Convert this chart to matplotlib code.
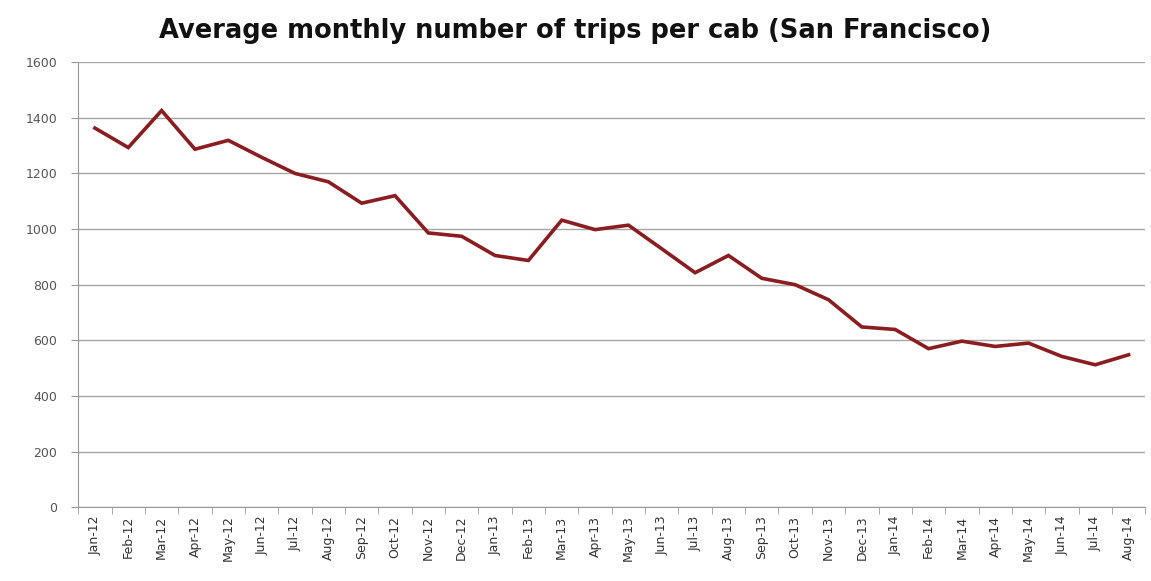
import numpy as np
import matplotlib.pyplot as plt

# meses (Jan-12 .. Aug-14) e média de viagens por táxi
meses = ['Jan-12', 'Feb-12', 'Mar-12', 'Apr-12', 'May-12', 'Jun-12', 'Jul-12', 'Aug-12',
         'Sep-12', 'Oct-12', 'Nov-12', 'Dec-12', 'Jan-13', 'Feb-13', 'Mar-13', 'Apr-13',
         'May-13', 'Jun-13', 'Jul-13', 'Aug-13', 'Sep-13', 'Oct-13', 'Nov-13', 'Dec-13',
         'Jan-14', 'Feb-14', 'Mar-14', 'Apr-14', 'May-14', 'Jun-14', 'Jul-14', 'Aug-14']
viagens = [1363, 1293, 1426, 1287, 1319, 1258, 1200, 1170,
           1093, 1120, 986, 974, 905, 887, 1032, 998,
           1014, 929, 843, 905, 823, 800, 746, 648,
           639, 570, 597, 578, 590, 542, 512, 548]
y_ticks = [0, 200, 400, 600, 800, 1000, 1200, 1400, 1600]


def plotar_grafico():
    fig = plt.figure(figsize=(11.51, 5.81), dpi=100)
    ax = fig.add_axes([0.068, 0.127, 0.927, 0.766])

    x = np.arange(len(meses))
    ax.plot(x, viagens, color='#8b1c1f', linewidth=2.6, solid_joinstyle='miter')

    ax.set_xlim(-0.5, len(meses) - 0.5)
    ax.set_ylim(0, 1600)
    ax.set_yticks(y_ticks)
    ax.set_yticklabels([str(v) for v in y_ticks], fontsize=9, color='#555555')

    ax.set_xticks(x)
    ax.set_xticklabels(meses, rotation=90, fontsize=9, color='#333333')
    ax.set_xticks(np.arange(-0.5, len(meses), 1.0), minor=True)
    ax.tick_params(axis='x', which='major', length=0, pad=6)
    ax.tick_params(axis='x', which='minor', length=5, color='#999999', direction='out')
    ax.tick_params(axis='y', length=5, color='#999999', pad=10)

    ax.grid(axis='y', color='#a6a6a6', linewidth=1)
    ax.set_axisbelow(True)
    for lado in ['top', 'right']:
        ax.spines[lado].set_visible(False)
    for lado in ['left', 'bottom']:
        ax.spines[lado].set_color('#999999')

    fig.text(0.5, 0.947, 'Average monthly number of trips per cab (San Francisco)',
             ha='center', va='center', fontsize=18.5, fontweight='bold', color='#111111')

    fig.savefig('out.png', dpi=100)


if __name__ == '__main__':
    plotar_grafico()
